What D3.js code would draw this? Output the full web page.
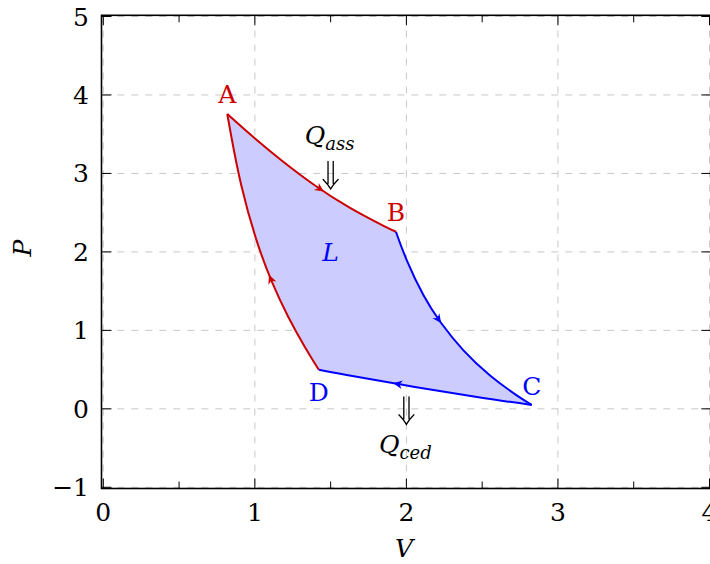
<!DOCTYPE html>
<html>
<head>
<meta charset="utf-8">
<script src="https://cdn.jsdelivr.net/npm/d3@7"></script>
<style>
  html, body { margin: 0; padding: 0; background: #fff; overflow: hidden; }
  svg { display: block; }
  text { font-family: "DejaVu Serif", serif; }
</style>
</head>
<body>
<svg id="chart" width="710" height="564"></svg>
<script>
// ---- data -------------------------------------------------------------
const xTickValues = [0, 1, 2, 3, 4];
const xTickLabels = ["0", "1", "2", "3", "4"];
const xMinorTickValues = [0.5, 1.5, 2.5, 3.5];
const yTickValues = [-1, 0, 1, 2, 3, 4, 5];
const yTickLabels = ["\u22121", "0", "1", "2", "3", "4", "5"];

// states of the cycle: name, V, P
const stateNames = ["A", "B", "C", "D"];
const stateV = [0.818, 1.931, 2.827, 1.422];
const stateP = [3.757, 2.257, 0.050, 0.497];

// the four processes as [V, P] samples
const processAB = [[0.818, 3.757], [1.001, 3.445], [1.179, 3.162], [1.397, 2.846], [1.628, 2.561], [1.846, 2.336], [1.931, 2.257]];
const processBC = [[1.931, 2.257], [2.002, 1.896], [2.112, 1.450], [2.228, 1.097], [2.375, 0.749], [2.552, 0.426], [2.728, 0.172], [2.827, 0.050]];
const processCD = [[2.827, 0.050], [2.486, 0.144], [2.046, 0.282], [1.606, 0.431], [1.422, 0.497]];
const processDA = [[1.422, 0.497], [1.329, 0.791], [1.220, 1.174], [1.112, 1.620], [1.007, 2.173], [0.910, 2.852], [0.845, 3.468], [0.818, 3.757]];

// heat annotations: anchor point of the double arrow
const heatInV = 1.5, heatInP = 3.0;
const heatOutV = 2.0, heatOutP = 0.0;
const workV = 1.5, workP = 2.0;

// ---- drawing ----------------------------------------------------------
const RED = "#cc0000", BLUE = "#0000ff", FILL = "#ccccff";
const svg = d3.select("#chart");
const x = d3.scaleLinear().domain([0, 4]).range([103.3, 709.5]);
const y = d3.scaleLinear().domain([-1, 5]).range([487.3, 16.5]);

// dashed grid
const grid = svg.append("g").attr("stroke", "#c8c8c8").attr("stroke-width", 1).attr("stroke-dasharray", "7,7");
grid.selectAll("line.v").data(xTickValues).join("line")
  .attr("x1", d => x(d)).attr("x2", d => x(d)).attr("y1", y(5)).attr("y2", y(-1));
grid.selectAll("line.h").data(yTickValues).join("line")
  .attr("x1", x(0)).attr("x2", x(4)).attr("y1", d => y(d)).attr("y2", d => y(d));

// cycle
const line = d3.line().x(d => x(d[0])).y(d => y(d[1])).curve(d3.curveNatural);
const processes = [
  { pts: processAB, color: RED, arrowAt: 0.59 },
  { pts: processBC, color: BLUE, arrowAt: 0.445 },
  { pts: processCD, color: BLUE, arrowAt: 0.64 },
  { pts: processDA, color: RED, arrowAt: 0.385 }
];
const fillD = processes.map((p, i) => {
  const d = line(p.pts);
  return i === 0 ? d : d.replace(/^M/, "L");
}).join("") + "Z";
svg.append("path").attr("d", fillD).attr("fill", FILL).attr("stroke", "none");

processes.forEach(p => {
  const el = svg.append("path").attr("d", line(p.pts)).attr("fill", "none")
    .attr("stroke", p.color).attr("stroke-width", 2).attr("stroke-linejoin", "round");
  const node = el.node();
  const L = node.getTotalLength();
  const tip = node.getPointAtLength(L * p.arrowAt);
  const back = node.getPointAtLength(L * p.arrowAt - 3);
  const ang = Math.atan2(tip.y - back.y, tip.x - back.x) * 180 / Math.PI;
  svg.append("path").attr("d", "M2,0 L-7,-4.3 L-4.3,0 L-7,4.3 Z")
    .attr("fill", p.color)
    .attr("transform", `translate(${tip.x},${tip.y}) rotate(${ang})`);
});

// frame
const frame = svg.append("g").attr("fill", "none").attr("stroke", "#000");
frame.append("rect")
  .attr("x", x(0) - 1.8).attr("y", y(5) - 1.2)
  .attr("width", x(4) - x(0) + 3.6).attr("height", y(-1) - y(5) + 2.4)
  .attr("stroke-width", 1.6);
const frameBottom = y(-1) + 1.2, frameTop = y(5) - 1.2, frameLeft = x(0) - 1.8, frameRight = x(4) + 1.8;
frame.selectAll("line.xt").data(xTickValues).join("line")
  .attr("x1", d => x(d)).attr("x2", d => x(d)).attr("y1", frameBottom).attr("y2", frameBottom - 10).attr("stroke-width", 1);
frame.selectAll("line.xtt").data(xTickValues).join("line")
  .attr("x1", d => x(d)).attr("x2", d => x(d)).attr("y1", frameTop).attr("y2", frameTop + 10).attr("stroke-width", 1);
frame.selectAll("line.xm").data(xMinorTickValues).join("line")
  .attr("x1", d => x(d)).attr("x2", d => x(d)).attr("y1", frameBottom).attr("y2", frameBottom - 7).attr("stroke-width", 1);
frame.selectAll("line.xmt").data(xMinorTickValues).join("line")
  .attr("x1", d => x(d)).attr("x2", d => x(d)).attr("y1", frameTop).attr("y2", frameTop + 7).attr("stroke-width", 1);
frame.selectAll("line.yt").data(yTickValues).join("line")
  .attr("x1", frameLeft).attr("x2", frameLeft + 10).attr("y1", d => y(d)).attr("y2", d => y(d)).attr("stroke-width", 1);
frame.selectAll("line.ytr").data(yTickValues).join("line")
  .attr("x1", frameRight).attr("x2", frameRight - 10).attr("y1", d => y(d)).attr("y2", d => y(d)).attr("stroke-width", 1);

// tick labels
const FS = 25;
svg.append("g").selectAll("text").data(xTickValues).join("text")
  .attr("x", d => x(d)).attr("y", 521).attr("text-anchor", "middle")
  .attr("font-size", FS).attr("fill", "#000").text((d, i) => xTickLabels[i]);
svg.append("g").selectAll("text").data(yTickValues).join("text")
  .attr("x", 89).attr("y", d => y(d)).attr("dy", "0.36em").attr("text-anchor", "end")
  .attr("font-size", FS).attr("fill", "#000").text((d, i) => yTickLabels[i]);

// axis titles
svg.append("text").attr("x", 404).attr("y", 557).attr("text-anchor", "middle")
  .attr("font-size", FS).attr("font-style", "italic").text("V");
svg.append("text").attr("transform", "translate(31,248) rotate(-90)").attr("text-anchor", "middle")
  .attr("font-size", FS).attr("font-style", "italic").text("P");

// state labels
const stateColors = [RED, RED, BLUE, BLUE];
const stateDy = [-11, -11, -10, 31];
svg.append("g").selectAll("text").data(stateNames).join("text")
  .attr("x", (d, i) => x(stateV[i])).attr("y", (d, i) => y(stateP[i]) + stateDy[i])
  .attr("text-anchor", "middle").attr("font-size", FS)
  .attr("fill", (d, i) => stateColors[i]).text(d => d);

// work label
svg.append("text").attr("x", x(workV)).attr("y", y(workP)).attr("dy", "0.36em")
  .attr("text-anchor", "middle").attr("font-size", FS).attr("font-style", "italic")
  .attr("fill", BLUE).text("L");

// heat flow double arrows (drawn as strokes)
function downArrow(cx, cy) {
  const top = cy - 12, tip = cy + 15.5;
  const d = `M${cx - 2.6},${top} L${cx - 2.6},${tip - 5.5}` +
            `M${cx + 2.6},${top} L${cx + 2.6},${tip - 5.5}` +
            `M${cx - 7.5},${tip - 9.5} Q${cx - 2.5},${tip - 4.5} ${cx},${tip}` +
            ` Q${cx + 2.5},${tip - 4.5} ${cx + 7.5},${tip - 9.5}`;
  svg.append("path").attr("d", d).attr("fill", "none").attr("stroke", "#000")
    .attr("stroke-width", 1.3).attr("stroke-linecap", "round");
}
downArrow(x(heatInV), y(heatInP));
downArrow(x(heatOutV), y(heatOutP));

function heatLabel(cx, baseline, sub) {
  const t = svg.append("text").attr("x", cx).attr("y", baseline).attr("text-anchor", "middle")
    .attr("font-size", FS).attr("font-style", "italic").attr("fill", "#000");
  t.append("tspan").text("Q");
  t.append("tspan").attr("dy", 6).attr("font-size", 18).text(sub);
}
heatLabel(x(heatInV) - 1, y(heatInP) - 29, "ass");
heatLabel(x(heatOutV) - 1, y(heatOutP) + 44, "ced");
</script>
</body>
</html>
